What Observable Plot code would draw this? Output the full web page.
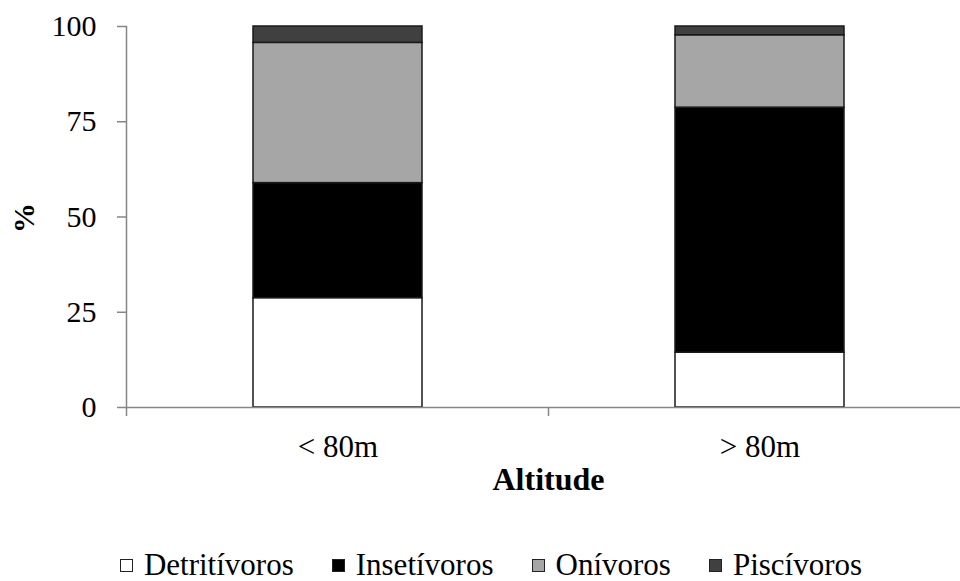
<!DOCTYPE html>
<html>
<head>
<meta charset="utf-8">
<script src="https://cdn.jsdelivr.net/npm/d3@7"></script>
<script src="https://cdn.jsdelivr.net/npm/@observablehq/plot@0.6"></script>
<style>
  html, body { margin: 0; padding: 0; background: #fff; }
  #chart { width: 960px; height: 581px; font-family: "Liberation Serif", "Times New Roman", serif; }
  #legend { display: flex; justify-content: center; align-items: center; height: 30px; line-height: 30px;
            padding-top: 30px; padding-left: 22px; font-size: 31px; color: #000; }
  .item { display: flex; align-items: center; margin: 0 19px; }
  .sw { width: 11px; height: 11px; border: 1px solid #222; margin-right: 11px; }
</style>
</head>
<body>
<div id="chart"></div>
<script>
// ---- data ----
const categories = ["< 80m", "> 80m"];
const groups = ["Detritívoros", "Insetívoros", "Onívoros", "Piscívoros"];
const groupColors = ["#ffffff", "#000000", "#a6a6a6", "#404040"];
const detritivoros = [28.7, 14.4];
const insetivoros  = [30.2, 64.3];
const onivoros     = [36.8, 19.0];
const piscivoros   = [4.3, 2.3];
const yTicks = [0, 25, 50, 75, 100];
const xLabel = "Altitude";
const yLabel = "%";

const series = [detritivoros, insetivoros, onivoros, piscivoros];
const rows = [];
categories.forEach((c, i) => {
  groups.forEach((g, j) => rows.push({altitude: c, group: g, value: series[j][i]}));
});

const axisGray = "#868686";

const plot = Plot.plot({
  width: 960,
  height: 520,
  marginTop: 26,
  marginBottom: 113,
  marginLeft: 126,
  marginRight: 0,
  style: {fontFamily: "'Liberation Serif', 'Times New Roman', serif", background: "#fff", color: "#000"},
  x: {domain: categories, range: [126, 970], paddingInner: 0.6, paddingOuter: 0.3, axis: null},
  y: {domain: [0, 100], axis: null},
  color: {domain: groups, range: groupColors},
  marks: [
    Plot.barY(rows, {x: "altitude", y: "value", fill: "group", order: groups,
                     stroke: "#1a1a1a", strokeWidth: 1.5}),
    Plot.ruleY([0], {stroke: axisGray, strokeWidth: 1.5}),
    Plot.frame({anchor: "left", stroke: axisGray, strokeWidth: 1.5}),
    Plot.axisY(yTicks, {tickSize: 9, tickPadding: 21, fontSize: 30, stroke: axisGray, strokeWidth: 1.5,
                        fill: "#000", label: null}),
    Plot.axisX({tickSize: 0, tickPadding: 27, fontSize: 31, fill: "#000", label: null}),
    Plot.text([xLabel], {frameAnchor: "bottom", dx: 5, dy: 82, fontSize: 32, fontWeight: "bold", fill: "#000"}),
    Plot.text([yLabel], {frameAnchor: "left", dx: -102, dy: 16, rotate: -90, fontSize: 30, fontWeight: "bold", fill: "#000"})
  ]
});

// boundary ticks on the category axis, placed from the plot's own x and y scales
const xs = plot.scale("x");
const ys = plot.scale("y");
const gap = (xs.step - xs.bandwidth) / 2;
const bounds = categories.map(c => xs.apply(c) - gap);
bounds.push(xs.apply(categories[categories.length - 1]) + xs.bandwidth + gap);
const y0 = ys.apply(0);
d3.select(plot).append("g")
  .selectAll("line").data(bounds).join("line")
  .attr("x1", d => d).attr("x2", d => d)
  .attr("y1", y0).attr("y2", y0 + 9)
  .attr("stroke", axisGray).attr("stroke-width", 1.5);

const chart = document.getElementById("chart");
chart.appendChild(plot);

const legend = document.createElement("div");
legend.id = "legend";
groups.forEach((g, j) => {
  const item = document.createElement("div");
  item.className = "item";
  const sw = document.createElement("span");
  sw.className = "sw";
  sw.style.background = groupColors[j];
  item.appendChild(sw);
  const t = document.createElement("span");
  t.textContent = g;
  item.appendChild(t);
  legend.appendChild(item);
});
chart.appendChild(legend);
</script>
</body>
</html>
